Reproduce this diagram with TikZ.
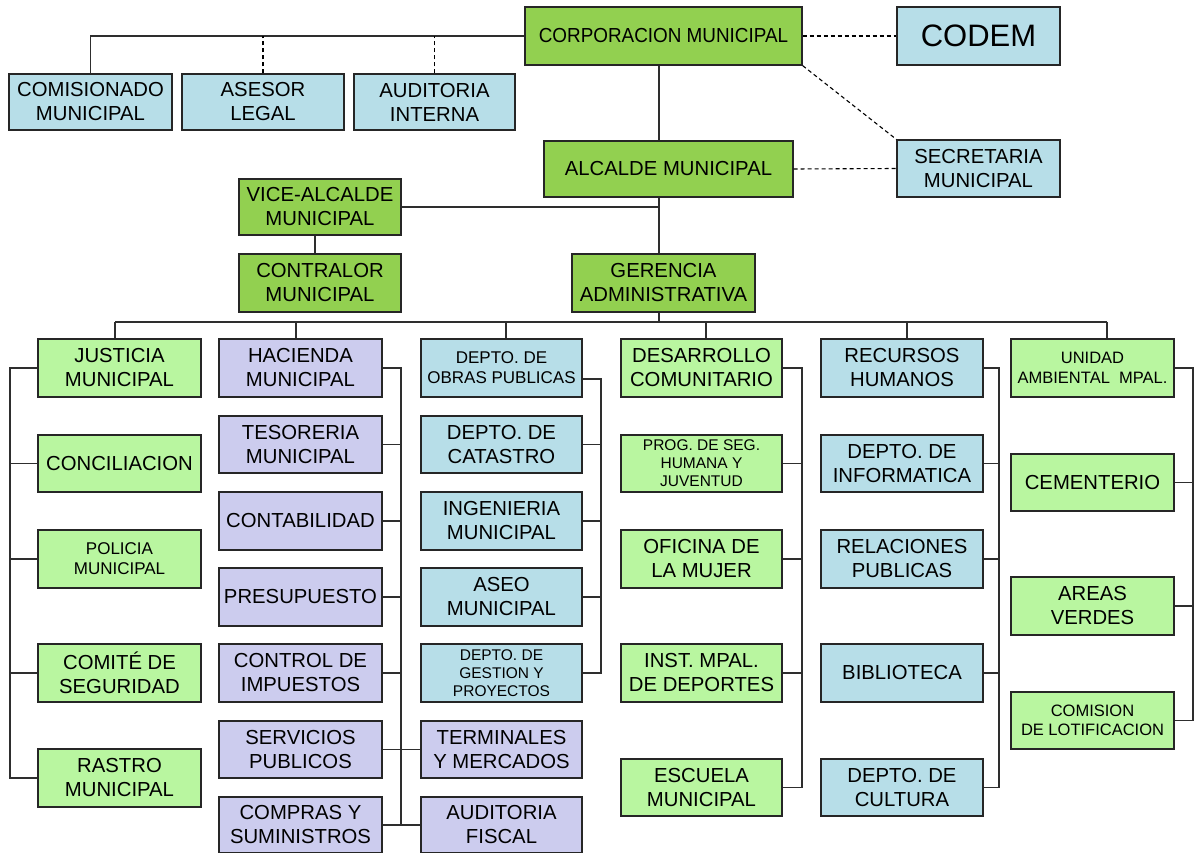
\documentclass[tikz,border=0pt]{standalone}
\usepackage{fontspec}
\setmainfont{Liberation Sans}
\usepackage{graphicx}
\definecolor{dgreen}{HTML}{92D050}
\definecolor{lblue}{HTML}{B7DEE8}
\definecolor{lgreen}{HTML}{B9F6A0}
\definecolor{lav}{HTML}{CCCCEE}
\definecolor{boxline}{HTML}{262626}
\definecolor{conn}{HTML}{2E2E2E}
\newcommand\obox[7]{\node[#6, minimum width={(#4)-(#2)}, minimum height={(#5)-(#3)}] (#1) at ({((#2)+(#4))/2},{((#3)+(#5))/2}) {#7};}
\begin{document}
\begin{tikzpicture}[x=1pt,y=-1pt,
  box/.style={draw=boxline, line width=1.3pt, inner sep=0pt, align=center, font=\fontsize{20.3}{24}\selectfont},
  dg/.style={box, fill=dgreen},
  lb/.style={box, fill=lblue},
  lg/.style={box, fill=lgreen},
  lv/.style={box, fill=lav},
  smalltxt/.style={font=\fontsize{17}{20}\selectfont},
  tinytxt/.style={font=\fontsize{15.5}{18}\selectfont},
  mtxt/.style={font=\fontsize{16.5}{19.5}\selectfont},
  bigtxt/.style={font=\fontsize{31}{36}\selectfont},
  link/.style={draw=conn, line width=1.4pt},
  dlink/.style={draw=black, line width=1.1pt, dash pattern=on 4pt off 3pt}]
\useasboundingbox (0,0) rectangle (1195,853);
\fill[white] (0,0) rectangle (1195,853);
% top
\obox{corp}{525}{7}{802}{65}{dg}{\scalebox{0.93}[1]{CORPORACION MUNICIPAL}}
\obox{codem}{897}{7}{1060}{65}{lb,bigtxt}{CODEM}
\obox{comis}{9}{74}{172}{130}{lb}{COMISIONADO\\MUNICIPAL}
\obox{asesor}{182}{74}{344}{130}{lb}{ASESOR\\LEGAL}
\obox{audi}{354}{74}{515}{130}{lb}{AUDITORIA\\INTERNA}
\obox{alc}{544}{141}{793}{197}{dg}{ALCALDE MUNICIPAL}
\obox{secr}{897}{140}{1060}{197}{lb}{SECRETARIA\\MUNICIPAL}
\obox{vice}{239}{179}{401}{235}{dg}{VICE-ALCALDE\\MUNICIPAL}
\obox{contr}{239}{254}{401}{312}{dg}{CONTRALOR\\MUNICIPAL}
\obox{ger}{572}{254}{755}{312}{dg}{GERENCIA\\ADMINISTRATIVA}
% column 1
\obox{just}{38}{339}{201}{397}{lg}{JUSTICIA\\MUNICIPAL}
\obox{conc}{38}{435}{201}{492}{lg}{CONCILIACION}
\obox{poli}{38}{530}{201}{588}{lg,smalltxt}{POLICIA\\MUNICIPAL}
\obox{comite}{38}{644}{201}{702}{lg}{COMITÉ DE\\SEGURIDAD}
\obox{rastro}{38}{749}{201}{807}{lg}{RASTRO\\MUNICIPAL}
% column 2
\obox{hac}{219}{339}{382}{397}{lv}{HACIENDA\\MUNICIPAL}
\obox{teso}{219}{416}{382}{473}{lv}{TESORERIA\\MUNICIPAL}
\obox{conta}{219}{492}{382}{550}{lv}{CONTABILIDAD}
\obox{presu}{219}{568}{382}{626}{lv}{PRESUPUESTO}
\obox{ctrl}{219}{644}{382}{702}{lv}{CONTROL DE\\IMPUESTOS}
\obox{serv}{219}{721}{382}{778}{lv}{SERVICIOS\\PUBLICOS}
\obox{compras}{219}{797}{382}{853}{lv}{COMPRAS Y\\SUMINISTROS}
% column 3
\obox{obras}{421}{339}{582}{397}{lb,smalltxt}{DEPTO. DE\\OBRAS PUBLICAS}
\obox{catas}{421}{416}{582}{473}{lb}{DEPTO. DE\\CATASTRO}
\obox{ing}{421}{492}{582}{550}{lb}{INGENIERIA\\MUNICIPAL}
\obox{aseo}{421}{568}{582}{626}{lb}{ASEO\\MUNICIPAL}
\obox{gest}{421}{644}{582}{702}{lb,tinytxt}{DEPTO. DE\\GESTION Y\\PROYECTOS}
\obox{term}{421}{721}{582}{778}{lv}{TERMINALES\\Y MERCADOS}
\obox{audf}{421}{797}{582}{853}{lv}{AUDITORIA\\FISCAL}
% column 4
\obox{desa}{621}{339}{782}{397}{lg}{DESARROLLO\\COMUNITARIO}
\obox{prog}{621}{435}{782}{492}{lg,tinytxt}{PROG. DE SEG.\\HUMANA Y\\JUVENTUD}
\obox{ofic}{621}{530}{782}{588}{lg}{OFICINA DE\\LA MUJER}
\obox{inst}{621}{644}{782}{702}{lg}{INST. MPAL.\\DE DEPORTES}
\obox{escu}{621}{759}{782}{816}{lg}{ESCUELA\\MUNICIPAL}
% column 5
\obox{rrhh}{821}{339}{983}{397}{lb}{RECURSOS\\HUMANOS}
\obox{info}{821}{435}{983}{492}{lb}{DEPTO. DE\\INFORMATICA}
\obox{rrpp}{821}{530}{983}{588}{lb}{RELACIONES\\PUBLICAS}
\obox{bibl}{821}{644}{983}{702}{lb}{BIBLIOTECA}
\obox{cult}{821}{759}{983}{816}{lb}{DEPTO. DE\\CULTURA}
% column 6
\obox{unid}{1011}{339}{1174}{397}{lg,mtxt}{UNIDAD\\AMBIENTAL\ \ MPAL.}
\obox{cem}{1011}{454}{1174}{511}{lg}{CEMENTERIO}
\obox{areas}{1011}{577}{1174}{635}{lg}{AREAS\\VERDES}
\obox{comi}{1011}{692}{1174}{749}{lg,mtxt}{COMISION\\DE LOTIFICACION}
% helper coordinates
\coordinate (spine) at (659,0);
\coordinate (vc) at (315,0);
\coordinate (bus) at (0,322);
\coordinate (d1) at (115,322);
\coordinate (d2) at (296,322);
\coordinate (d3) at (506,322);
\coordinate (d4) at (706,322);
\coordinate (d5) at (907,322);
\coordinate (d6) at (1107,322);
\coordinate (r1) at (10,0);
\coordinate (r2) at (401,0);
\coordinate (r3) at (601,0);
\coordinate (r4) at (802,0);
\coordinate (r5) at (999,0);
\coordinate (r6) at (1193,0);
% top connectors
\draw[link] (corp.west) -| (comis.north);
\draw[dlink] (asesor.north) -- (asesor.north |- corp.west);
\draw[dlink] (audi.north) -- (audi.north |- corp.west);
\draw[dlink] (corp.east) -- (codem.west);
\draw[dlink] (corp.south east) -- (secr.north west);
\draw[dlink] (alc.east) -- (secr.west);
\draw[link] (spine |- corp.south) -- (spine |- alc.north);
\draw[link] (spine |- alc.south) -- (spine |- ger.north);
\draw[link] (vice.east) -- (vice.east -| spine);
\draw[link] (vc |- vice.south) -- (vc |- contr.north);
\draw[link] (spine |- ger.south) -- (spine |- bus);
% bus
\draw[link] (d1) -- (d6);
\draw[link] (d1) -- (d1 |- just.north);
\draw[link] (d2) -- (d2 |- hac.north);
\draw[link] (d3) -- (d3 |- obras.north);
\draw[link] (d4) -- (d4 |- desa.north);
\draw[link] (d5) -- (d5 |- rrhh.north);
\draw[link] (d6) -- (d6 |- unid.north);
% column 1
\draw[link] (just.west) -- (just.west -| r1) -- (rastro.west -| r1) -- (rastro.west);
\foreach \n in {conc,poli,comite} \draw[link] (\n.west) -- (\n.west -| r1);
% column 2
\draw[link] (hac.east) -- (hac.east -| r2) -- (compras.east -| r2);
\foreach \n in {teso,conta,presu,ctrl} \draw[link] (\n.east) -- (\n.east -| r2);
\draw[link] (serv.east) -- (term.west);
\draw[link] (compras.east) -- (audf.west);
% column 3
\draw[link] ([yshift=-11pt]obras.east) -- ([yshift=-11pt]obras.east -| r3) -- (gest.east -| r3) -- (gest.east);
\foreach \n in {catas,ing,aseo} \draw[link] (\n.east) -- (\n.east -| r3);
% column 4
\draw[link] (desa.east) -- (desa.east -| r4) -- (escu.east -| r4) -- (escu.east);
\foreach \n in {prog,ofic,inst} \draw[link] (\n.east) -- (\n.east -| r4);
% column 5
\draw[link] (rrhh.east) -- (rrhh.east -| r5) -- (cult.east -| r5) -- (cult.east);
\foreach \n in {info,rrpp,bibl} \draw[link] (\n.east) -- (\n.east -| r5);
% column 6
\draw[link] (unid.east) -- (unid.east -| r6) -- (comi.east -| r6) -- (comi.east);
\foreach \n in {cem,areas} \draw[link] (\n.east) -- (\n.east -| r6);
\end{tikzpicture}
\end{document}
